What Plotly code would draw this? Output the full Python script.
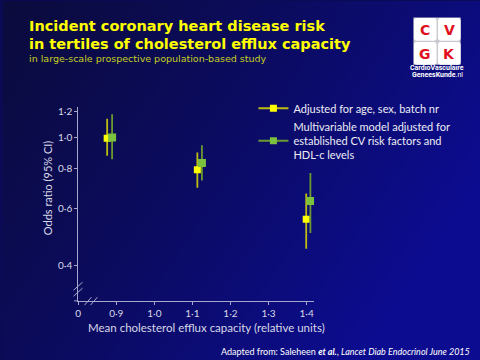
import base64
import plotly.graph_objects as go

# ---------------- data ----------------
efflux_adj = [0.876, 1.113, 1.399]
or_adj = [0.995, 0.793, 0.557]
lo_adj = [0.877, 0.697, 0.451]
hi_adj = [1.144, 0.897, 0.669]

efflux_mv = [0.889, 1.125, 1.410]
or_mv = [1.000, 0.833, 0.634]
lo_mv = [0.855, 0.735, 0.505]
hi_mv = [1.180, 0.945, 0.775]

x_ticks = [0.8, 0.9, 1.0, 1.1, 1.2, 1.3, 1.4]
x_ticktext = ["0", "0·9", "1·0", "1·1", "1·2", "1·3", "1·4"]
y_ticks = [0.4, 0.6, 0.8, 1.0, 1.2]
y_ticktext = ["0·4", "0·6", "0·8", "1·0", "1·2"]

name_adj = "Adjusted for age, sex, batch nr"
name_mv = "Multivariable model adjusted for<br>established CV risk factors and<br>HDL-c levels"

# ---------------- helpers ----------------
W, H = 480, 360
def px(x):
    return x / W
def py(y):
    return 1 - y / H

YEL = "#ffff00"
YEL_BAR = "#bdbd10"
GRN = "#7cc040"
GRN_BAR = "#6a9a30"
AXIS = "#a8a8cc"
TXT = "#d8d8e6"
BODY_FONT = "Lato"

svg = (
    '<svg xmlns="http://www.w3.org/2000/svg" width="480" height="360">'
    '<defs><linearGradient id="g" x1="0" y1="0" x2="1" y2="0.5">'
    '<stop offset="0" stop-color="#0b0b3c"/>'
    '<stop offset="0.45" stop-color="#0b0b5c"/>'
    '<stop offset="1" stop-color="#0c0c90"/>'
    '</linearGradient></defs>'
    '<rect width="480" height="360" fill="url(#g)"/></svg>'
)
bg_src = "data:image/svg+xml;base64," + base64.b64encode(svg.encode()).decode()

fig = go.Figure()

fig.add_trace(go.Scatter(
    x=efflux_adj, y=or_adj, mode="markers", showlegend=False,
    marker=dict(symbol="square", size=7, color=YEL),
    error_y=dict(type="data", symmetric=False,
                 array=[h - c for h, c in zip(hi_adj, or_adj)],
                 arrayminus=[c - l for c, l in zip(or_adj, lo_adj)],
                 color=YEL_BAR, thickness=1.8, width=0),
))
fig.add_trace(go.Scatter(
    x=efflux_mv, y=or_mv, mode="markers", showlegend=False,
    marker=dict(symbol="square", size=8, color=GRN),
    error_y=dict(type="data", symmetric=False,
                 array=[h - c for h, c in zip(hi_mv, or_mv)],
                 arrayminus=[c - l for c, l in zip(or_mv, lo_mv)],
                 color=GRN_BAR, thickness=1.8, width=0),
))
# legend entries
fig.add_trace(go.Scatter(x=[None], y=[None], mode="lines+markers", name=name_adj,
                         marker=dict(symbol="square", size=7, color=YEL),
                         line=dict(color=YEL_BAR, width=2)))
fig.add_trace(go.Scatter(x=[None], y=[None], mode="lines+markers", name=name_mv,
                         marker=dict(symbol="square", size=7, color=GRN),
                         line=dict(color=GRN_BAR, width=2)))

x0p, x1p = 75.7, 313.0
fig.update_xaxes(
    domain=[px(x0p), px(x1p)], range=[0.8, 0.8 + (x1p - x0p) / 383.0],
    tickvals=x_ticks, ticktext=x_ticktext, showgrid=False, zeroline=False,
    showline=True, linecolor=AXIS, linewidth=1, ticks="outside", ticklen=3,
    tickcolor=AXIS, tickfont=dict(family=BODY_FONT, size=10, color=TXT),
)
fig.update_yaxes(
    type="log", domain=[py(300.7), py(106)], range=[-0.508, 0.0955],
    tickvals=y_ticks, ticktext=y_ticktext, showgrid=False, zeroline=False,
    showline=True, linecolor=AXIS, linewidth=1, ticks="outside", ticklen=3,
    tickcolor=AXIS, tickfont=dict(family=BODY_FONT, size=10, color=TXT),
)

shapes = []
# axis break marks
for (xa, ya, xb, yb) in [(71, 296, 80, 288), (71, 290, 80, 282),
                         (82, 305, 89, 297), (88, 305, 95, 297)]:
    shapes.append(dict(type="line", xref="paper", yref="paper",
                       x0=px(xa), y0=py(ya), x1=px(xb), y1=py(yb),
                       line=dict(color=AXIS, width=1)))
# extend x axis line left of origin
shapes.append(dict(type="line", xref="paper", yref="paper",
                   x0=px(71.5), y0=py(300.7), x1=px(x0p), y1=py(300.7),
                   line=dict(color=AXIS, width=1)))

# logo
shapes.append(dict(type="rect", xref="paper", yref="paper",
                   x0=px(413), y0=py(64), x1=px(460.5), y1=py(16.5),
                   fillcolor="#c8c8d0", line=dict(width=0)))
def rrect(xa, ya, xb, yb, r=2.5):
    return (f"M{px(xa+r)},{py(ya)} L{px(xb-r)},{py(ya)} Q{px(xb)},{py(ya)} {px(xb)},{py(ya+r)} "
            f"L{px(xb)},{py(yb-r)} Q{px(xb)},{py(yb)} {px(xb-r)},{py(yb)} "
            f"L{px(xa+r)},{py(yb)} Q{px(xa)},{py(yb)} {px(xa)},{py(yb-r)} "
            f"L{px(xa)},{py(ya+r)} Q{px(xa)},{py(ya)} {px(xa+r)},{py(ya)} Z")
cells = [(413.5, 17, 436.3, 39.8), (437.7, 17, 460.5, 39.8),
         (413.5, 41.2, 436.3, 64), (437.7, 41.2, 460.5, 64)]
for c in cells:
    shapes.append(dict(type="path", xref="paper", yref="paper", path=rrect(*c),
                       fillcolor="#ffffff", line=dict(width=0)))

annotations = []
for (c, letter) in zip(cells, ["C", "V", "G", "K"]):
    annotations.append(dict(x=px((c[0] + c[2]) / 2), y=py((c[1] + c[3]) / 2 + 0.5),
                            xref="paper", yref="paper", text=f"<b>{letter}</b>",
                            showarrow=False, xanchor="center", yanchor="middle",
                            font=dict(family="DejaVu Sans", size=14, color="#e01020")))
annotations.append(dict(x=px(437), y=py(67.5), xref="paper", yref="paper",
                        text="<b>CardioVasculaire</b>", showarrow=False,
                        xanchor="center", yanchor="middle",
                        font=dict(family="Liberation Sans Narrow, Roboto", size=7, color="#ffffff")))
annotations.append(dict(x=px(437), y=py(74.5), xref="paper", yref="paper",
                        text="<b>GeneesKunde</b>.nl", showarrow=False,
                        xanchor="center", yanchor="middle",
                        font=dict(family="Liberation Sans Narrow, Roboto", size=7, color="#ffffff")))

# titles
annotations.append(dict(x=px(24), y=py(25.5), xref="paper", yref="paper",
                        text="<b>Incident coronary heart disease risk</b>", showarrow=False,
                        xanchor="left", yanchor="middle",
                        font=dict(family="DejaVu Sans", size=14.5, color="#ffff00")))
annotations.append(dict(x=px(24), y=py(43), xref="paper", yref="paper",
                        text="<b>in tertiles of cholesterol efflux capacity</b>", showarrow=False,
                        xanchor="left", yanchor="middle",
                        font=dict(family="DejaVu Sans", size=14.5, color="#ffff00")))
annotations.append(dict(x=px(24), y=py(57.5), xref="paper", yref="paper",
                        text="in large-scale prospective population-based study", showarrow=False,
                        xanchor="left", yanchor="middle",
                        font=dict(family="DejaVu Sans", size=9.5, color="#c8d020")))

# axis titles
annotations.append(dict(x=px(205), y=py(327), xref="paper", yref="paper",
                        text="Mean cholesterol efflux capacity (relative units)", showarrow=False,
                        xanchor="center", yanchor="middle",
                        font=dict(family=BODY_FONT, size=11.5, color=TXT)))
annotations.append(dict(x=px(45), y=py(187), xref="paper", yref="paper",
                        text="Odds ratio (95% CI)", showarrow=False, textangle=-90,
                        xanchor="center", yanchor="middle",
                        font=dict(family=BODY_FONT, size=11, color=TXT)))
# footnote
annotations.append(dict(x=px(472), y=py(351), xref="paper", yref="paper",
                        text="Adapted from: Saleheen <b><i>et al.</i></b>, <i>Lancet Diab Endocrinol June 2015</i>",
                        showarrow=False, xanchor="right", yanchor="middle",
                        font=dict(family=BODY_FONT, size=9, color="#ffffff")))

fig.update_layout(
    width=W, height=H, margin=dict(l=0, r=0, t=0, b=0),
    paper_bgcolor="#0b0b55", plot_bgcolor="rgba(0,0,0,0)",
    images=[dict(source=bg_src, xref="paper", yref="paper", x=0, y=1,
                 sizex=1, sizey=1, sizing="stretch", layer="below",
                 xanchor="left", yanchor="top")],
    shapes=shapes, annotations=annotations,
    legend=dict(x=px(252), y=py(93), xanchor="left", yanchor="top",
                bgcolor="rgba(0,0,0,0)", borderwidth=0, tracegroupgap=0,
                font=dict(family=BODY_FONT, size=11, color="#ececf4")),
)

fig.write_html(
    "out.html",
    config={"displayModeBar": False},
    post_script="document.body.style.margin='0';document.body.style.overflow='hidden';",
)
